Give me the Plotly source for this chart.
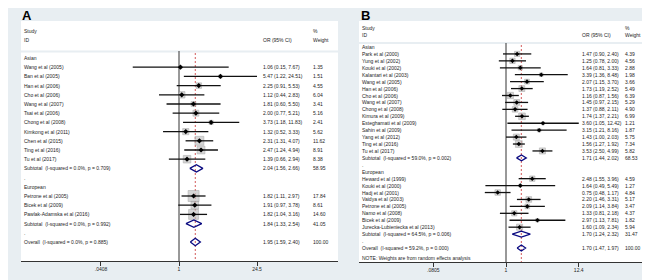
import math
import plotly.graph_objects as go

# ---------------- Panel A data ----------------
A_study = ["Asian", "Wang et al (2005)", "Ban et al (2005)", "Han et al (2006)", "Cho et al (2006)",
           "Wang et al (2007)", "Tsai et al (2006)", "Chong et al (2008)", "Kimkong et al (2011)",
           "Chen et al (2015)", "Ting et al (2016)", "Tu et al (2017)",
           "Subtotal  (I-squared = 0.0%, p = 0.709)", ".", "European", "Petrone et al (2005)",
           "Bicek et al (2009)", "Pawlak-Adamska et al (2016)",
           "Subtotal  (I-squared = 0.0%, p = 0.992)", ".", "Overall  (I-squared = 0.0%, p = 0.885)"]
A_kind = ["group"] + ["study"] * 11 + ["pooled", "blank", "group"] + ["study"] * 3 + ["pooled", "blank", "pooled"]
A_or = [None, 1.06, 5.47, 2.25, 1.12, 1.81, 2.00, 3.73, 1.32, 2.31, 2.47, 1.39, 2.04, None, None,
        1.82, 1.91, 1.82, 1.84, None, 1.95]
A_lo = [None, 0.15, 1.22, 0.91, 0.44, 0.60, 0.77, 1.18, 0.52, 1.31, 1.24, 0.66, 1.56, None, None,
        1.11, 0.97, 1.04, 1.33, None, 1.59]
A_hi = [None, 7.67, 24.51, 5.53, 2.83, 5.50, 5.21, 11.83, 3.33, 4.07, 4.94, 2.94, 2.66, None, None,
        2.97, 3.78, 3.16, 2.54, None, 2.40]
A_wt = [None, 1.35, 1.51, 4.55, 6.04, 3.41, 5.16, 2.41, 5.62, 11.62, 8.91, 8.38, 58.95, None, None,
        17.84, 8.61, 14.60, 41.05, None, 100.00]
A_ticks = [0.0408, 1, 24.5]
A_ticktext = [".0408", "1", "24.5"]

# ---------------- Panel B data ----------------
B_study = ["Asian", "Park et al (2000)", "Yung et al (2002)", "Kouki et al (2002)", "Kalantari et al (2003)",
           "Wang et al (2005)", "Han et al (2006)", "Cho et al (2006)", "Wang et al (2007)",
           "Chong et al (2008)", "Kimura et al (2009)", "Esteghamati et al (2009)", "Sahin et al (2009)",
           "Yang et al (2012)", "Ting et al (2016)", "Tu et al (2017)",
           "Subtotal  (I-squared = 59.0%, p = 0.002)", ".", "European", "Heward et al (1999)",
           "Kouki et al (2000)", "Hadj et al (2001)", "Vaidya et al (2003)", "Petrone et al (2005)",
           "Namo et al (2008)", "Bicek et al (2009)", "Jurecka-Lubieniecka et al (2013)",
           "Subtotal  (I-squared = 64.5%, p = 0.006)", ".", "Overall  (I-squared = 59.2%, p = 0.000)"]
B_kind = ["group"] + ["study"] * 15 + ["pooled", "blank", "group"] + ["study"] * 8 + ["pooled", "blank", "pooled"]
B_or = [None, 1.47, 1.25, 1.64, 3.39, 2.07, 1.73, 1.16, 1.45, 1.37, 1.74, 3.60, 3.15, 1.43, 1.56, 3.53,
        1.71, None, None, 2.48, 1.64, 0.75, 2.20, 2.09, 1.33, 2.97, 1.60, 1.70, None, 1.70]
B_lo = [None, 0.90, 0.78, 0.81, 1.36, 1.15, 1.19, 0.87, 0.97, 0.88, 1.37, 1.05, 1.21, 1.00, 1.27, 2.50,
        1.44, None, None, 1.55, 0.49, 0.48, 1.46, 1.14, 0.81, 1.13, 1.09, 1.24, None, 1.47]
B_hi = [None, 2.40, 2.00, 3.33, 8.48, 3.70, 2.52, 1.56, 2.15, 2.11, 2.21, 12.42, 8.16, 2.03, 1.92, 4.99,
        2.02, None, None, 3.96, 5.49, 1.17, 3.31, 3.84, 2.18, 7.81, 2.34, 2.32, None, 1.97]
B_wt = [None, 4.39, 4.56, 2.88, 1.98, 3.66, 5.49, 6.39, 5.29, 4.90, 6.99, 1.21, 1.87, 5.75, 7.34, 5.82,
        68.53, None, None, 4.59, 1.27, 4.84, 5.17, 3.47, 4.37, 1.82, 5.94, 31.47, None, 100.00]
B_ticks = [0.0805, 1, 12.4]
B_ticktext = [".0805", "1", "12.4"]
B_note = "NOTE: Weights are from random effects analysis"

# ---------------- layout helpers ----------------
W, H = 650, 280
BG = "#e8eef2"
FONT = "Liberation Sans, Arial, sans-serif"
TXT = "#1e1e1e"
FS = 5


def fx(p):
    return p / W


def fy(p):
    return 1 - p / H


panels = [
    dict(letter="A", study=A_study, kind=A_kind, orv=A_or, lo=A_lo, hi=A_hi, wt=A_wt,
         ticks=A_ticks, ticktext=A_ticktext, note=None,
         box=(13, 13, 330, 253), sep=43.5, row0=50.0, rowh=9.2, one=171.0, dec=56.15,
         lab_x=15, or_x=254, wt_x=304, hdr1=23, hdr2=32, sq=2.6, dh=0.4, pt=4,
         null_top=43, dash_top=45, xa="x", ya="y", lx=13),
    dict(letter="B", study=B_study, kind=B_kind, orv=B_or, lo=B_lo, hi=B_hi, wt=B_wt,
         ticks=B_ticks, ticktext=B_ticktext, note=B_note,
         box=(351, 13, 640, 254), sep=35.0, row0=39.0, rowh=6.93, one=498.0, dec=66.5,
         lab_x=353, or_x=573, wt_x=616, hdr1=20, hdr2=27, sq=2.5, dh=0.43, pt=3.5,
         null_top=35, dash_top=37, xa="x2", ya="y2", lx=352),
]

fig = go.Figure()
shapes = []
annotations = []


def ann(text, x, y, yref="paper", size=FS, bold=False, color=TXT):
    annotations.append(dict(text=("<b>%s</b>" % text) if bold else text, x=x, y=y, xref="paper", yref=yref,
                            xanchor="left", yanchor="middle", showarrow=False, borderpad=0,
                            font=dict(family=FONT, size=size, color=color)))


for i, P in enumerate(panels):
    x0, y0, x1, y1 = P["box"]
    row = lambda p: (p - P["row0"]) / P["rowh"]
    # white panel + header separator
    shapes.append(dict(type="rect", xref="paper", yref="paper", x0=fx(x0), x1=fx(x1), y0=fy(y1), y1=fy(y0),
                       fillcolor="white", line=dict(width=0), layer="below"))
    shapes.append(dict(type="line", xref="paper", yref="paper", x0=fx(x0), x1=fx(x1), y0=fy(P["sep"]),
                       y1=fy(P["sep"]), line=dict(color=BG, width=2), layer="below"))
    # letter & headers
    ann(P["letter"], fx(P["lx"]), fy(7.5), size=13, bold=True, color="#000")
    ann("Study", fx(P["lab_x"]), fy(P["hdr1"]))
    ann("ID", fx(P["lab_x"]), fy(P["hdr2"]))
    ann("OR (95% CI)", fx(P["or_x"]), fy(P["hdr2"]))
    ann("%", fx(P["wt_x"]), fy(P["hdr1"]))
    ann("Weight", fx(P["wt_x"]), fy(P["hdr2"]))

    xmax = P["ticks"][-1]
    ci_x, ci_y, sq_x, sq_y, sq_s, pt_x, pt_y = [], [], [], [], [], [], []
    dm_x, dm_y, ar_x, ar_y = [], [], [], []
    for r, (lab, k, o, lo, hi, w) in enumerate(zip(P["study"], P["kind"], P["orv"], P["lo"], P["hi"], P["wt"])):
        ann(lab, fx(P["lab_x"]), r, yref=P["ya"])
        if o is None:
            continue
        ann("%.2f (%.2f, %.2f)" % (o, lo, hi), fx(P["or_x"]), r, yref=P["ya"])
        ann("%.2f" % w, fx(P["wt_x"]), r, yref=P["ya"])
        if k == "study":
            end = hi
            if hi > xmax * 1.01:
                end = xmax
                ar_x.append(xmax)
                ar_y.append(r)
            ci_x += [lo, end, None]
            ci_y += [r, r, None]
            sq_x.append(o)
            sq_y.append(r)
            sq_s.append(P["sq"] * math.sqrt(w))
            pt_x.append(o)
            pt_y.append(r)
        else:
            d = P["dh"]
            dm_x += [lo, o, hi, o, lo, None]
            dm_y += [r, r - d, r, r + d, r, None]
    if P["note"]:
        ann(P["note"], fx(P["lab_x"]), fy(250))

    xa, ya = P["xa"], P["ya"]
    top, bot = row(P["null_top"]), row(y1)
    overall = P["orv"][-1]
    fig.add_trace(go.Scatter(x=[1, 1], y=[top, bot], mode="lines", xaxis=xa, yaxis=ya,
                             line=dict(color="#333333", width=1), hoverinfo="skip", showlegend=False))
    fig.add_trace(go.Scatter(x=[overall, overall], y=[row(P["dash_top"]), bot], mode="lines", xaxis=xa, yaxis=ya,
                             line=dict(color="#d35b5b", width=1, dash="2px,2px"), hoverinfo="skip",
                             showlegend=False))
    fig.add_trace(go.Scatter(x=sq_x, y=sq_y, mode="markers", xaxis=xa, yaxis=ya,
                             marker=dict(symbol="square", size=sq_s, color="#c4c4c4",
                                         line=dict(color="#8f8f8f", width=0.6)),
                             hoverinfo="skip", showlegend=False))
    fig.add_trace(go.Scatter(x=ci_x, y=ci_y, mode="lines", xaxis=xa, yaxis=ya,
                             line=dict(color="#111111", width=1.3), hoverinfo="skip", showlegend=False))
    fig.add_trace(go.Scatter(x=pt_x, y=pt_y, mode="markers", xaxis=xa, yaxis=ya,
                             marker=dict(symbol="diamond", size=P["pt"], color="#000000"),
                             hoverinfo="skip", showlegend=False))
    if ar_x:
        fig.add_trace(go.Scatter(x=ar_x, y=ar_y, mode="markers", xaxis=xa, yaxis=ya,
                                 marker=dict(symbol="triangle-right", size=5, color="#000000"),
                                 hoverinfo="skip", showlegend=False, cliponaxis=False))
    fig.add_trace(go.Scatter(x=dm_x, y=dm_y, mode="lines", xaxis=xa, yaxis=ya,
                             line=dict(color="#0a0a80", width=1.3), hoverinfo="skip", showlegend=False))

    axk = "xaxis" if i == 0 else "xaxis2"
    ayk = "yaxis" if i == 0 else "yaxis2"
    fig.update_layout(**{
        axk: dict(type="log", domain=[fx(x0), fx(x1)],
                  range=[(x0 - P["one"]) / P["dec"], (x1 - P["one"]) / P["dec"]],
                  anchor=ya, showline=True, linecolor="#333333", linewidth=1, ticks="outside", ticklen=4,
                  tickwidth=1, tickcolor="#333333", tickvals=P["ticks"], ticktext=P["ticktext"],
                  ticklabelstandoff=-1,
                  tickfont=dict(family=FONT, size=FS, color=TXT), showgrid=False, zeroline=False,
                  fixedrange=True),
        ayk: dict(domain=[fy(y1), fy(y0)], range=[row(y1), row(y0)], anchor=xa, visible=False,
                  showgrid=False, zeroline=False, fixedrange=True),
    })

fig.update_layout(width=W, height=H, autosize=False, margin=dict(l=0, r=0, t=0, b=0),
                  paper_bgcolor=BG, plot_bgcolor="rgba(0,0,0,0)", shapes=shapes, annotations=annotations,
                  showlegend=False, font=dict(family=FONT, size=FS, color=TXT))
fig.write_html("out.html")
